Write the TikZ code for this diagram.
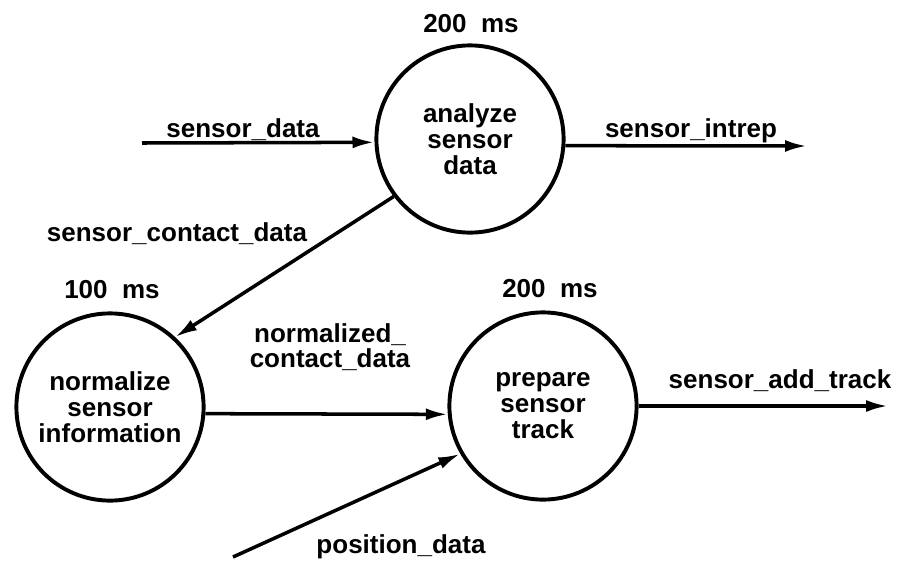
\documentclass[tikz,border=0pt]{standalone}
\usepackage{fontspec}
\setmainfont{Liberation Sans}
\usepackage{tikz}
\usetikzlibrary{arrows.meta}

\begin{document}
\begin{tikzpicture}
	\tikzstyle{process} = [circle, draw, line width=2.8pt, minimum size=4.68cm, inner sep=0pt, align=center, font=\bfseries\fontsize{18.5}{18.5}\selectfont]
	\tikzstyle{timing} = [anchor=base, font=\bfseries\fontsize{18.5}{20}\selectfont]
	\tikzstyle{flow} = [anchor=base, align=center, font=\bfseries\fontsize{18.5}{17.8}\selectfont]
	\tikzset{edge/.style = {line width=2.5pt, -{Latex[length=5.5mm, width=3mm]}}}
	
	\useasboundingbox (0,0) rectangle (22.45,-14.075);
	
	\node[process](analyze) at (11.75,-3.475) {analyze\\sensor\\data};
	\node[process](normalize) at (2.75,-10.175) {normalize\\sensor\\information};
	\node[process](prepare) at (13.575,-10.15) {prepare\\sensor\\track};
	
	\node[timing](tanalyze) at (11.775,-0.8) {200\ \ ms};
	\node[timing](tnormalize) at (2.8,-7.45) {100\ \ ms};
	\node[timing](tprepare) at (13.75,-7.425) {200\ \ ms};
	
	\coordinate (sdin) at (3.55,-3.575);
	\coordinate (siout) at (20.175,-3.65);
	\coordinate (posin) at (5.825,-13.925);
	\coordinate (saout) at (22.2,-10.15);
	
	\draw[edge](sdin) to (analyze.182);
	\draw[edge](analyze.-4) to (siout);
	\draw[edge](analyze.217) to (normalize.47);
	\draw[edge](normalize.-4) to (prepare.185);
	\draw[edge](posin) to (prepare.210);
	\draw[edge](prepare.east) to (saout);
	
	\node[flow](lsdata) at (6.075,-3.425) {sensor\_data};
	\node[flow](lsintrep) at (17.275,-3.425) {sensor\_intrep};
	\node[flow](lscontact) at (4.425,-6.025) {sensor\_contact\_data};
	\node[flow, anchor=center](lnormal) at (8.25,-8.68) {normalized\_\\contact\_data};
	\node[flow](laddtrack) at (19.5,-9.7) {sensor\_add\_track};
	\node[flow](lposition) at (10.025,-13.825) {position\_data};
	
\end{tikzpicture}
\end{document}
